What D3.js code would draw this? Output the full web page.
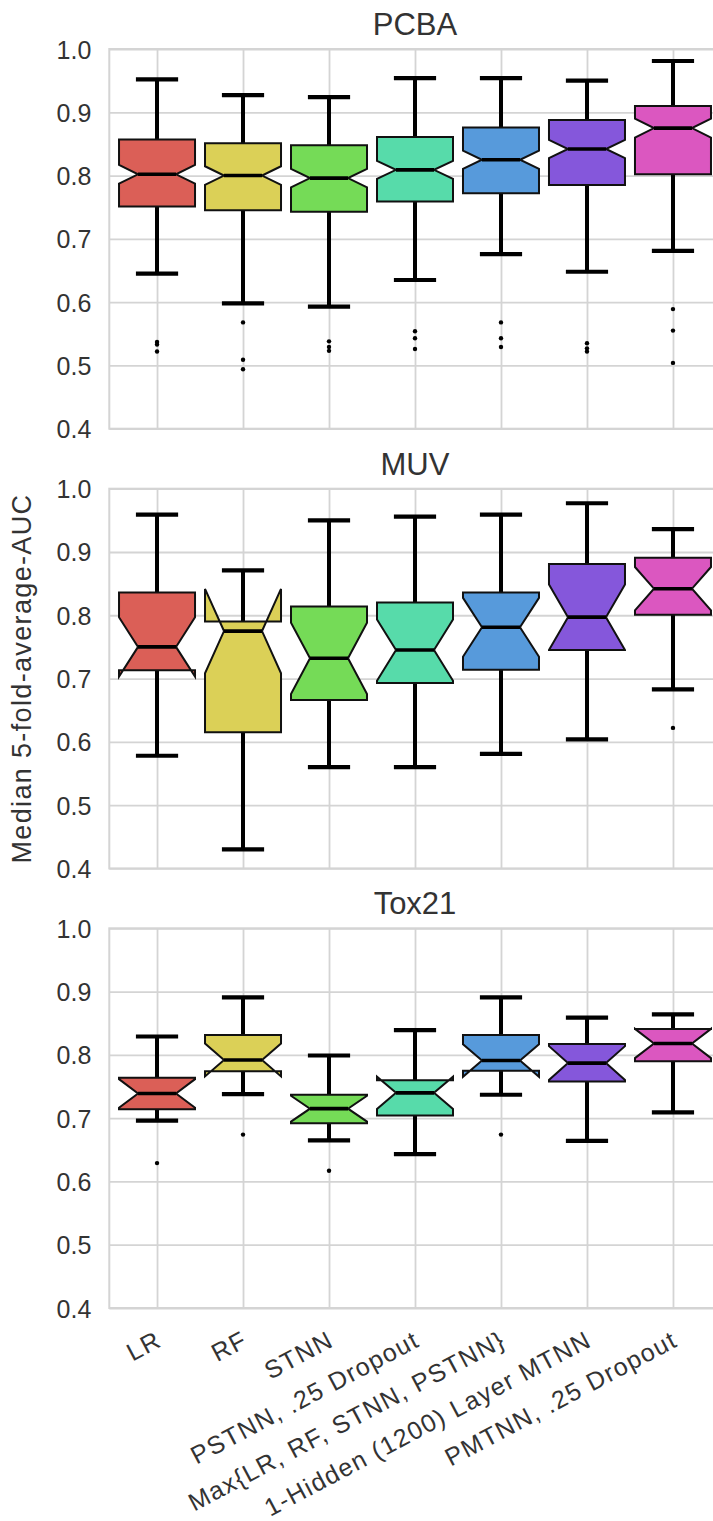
<!DOCTYPE html>
<html><head><meta charset="utf-8">
<script src="https://cdn.jsdelivr.net/npm/d3@7"></script>
<style>body{margin:0;background:#fff} svg{display:block}</style>
</head><body>
<svg id="chart" width="713" height="1521"></svg>
<script>
// ---------------- data ----------------
const categories = ["LR", "RF", "STNN", "PSTNN, .25 Dropout", "Max{LR, RF, STNN, PSTNN}", "1-Hidden (1200) Layer MTNN", "PMTNN, .25 Dropout"];
const datasets = ["PCBA", "MUV", "Tox21"];
const taskCounts = [128, 17, 12];
const colors = ["#db5f57", "#dbd057", "#75db57", "#57dbaa", "#579adb", "#8557db", "#db57c0"];
const yTicks = [0.4, 0.5, 0.6, 0.7, 0.8, 0.9, 1.0];

const pcbaHigh   = [0.952, 0.927, 0.924, 0.954, 0.954, 0.950, 0.981];
const pcbaQ3     = [0.857, 0.851, 0.848, 0.861, 0.876, 0.888, 0.910];
const pcbaMedian = [0.802, 0.800, 0.796, 0.809, 0.825, 0.842, 0.875];
const pcbaQ1     = [0.751, 0.745, 0.743, 0.759, 0.772, 0.785, 0.802];
const pcbaLow    = [0.645, 0.598, 0.593, 0.635, 0.676, 0.648, 0.681];
const pcbaOutliers = [[0.537, 0.533, 0.522], [0.568, 0.509, 0.494], [0.538, 0.529, 0.523], [0.554, 0.543, 0.526], [0.568, 0.543, 0.529], [0.535, 0.527, 0.522], [0.589, 0.555, 0.504]];

const muvHigh   = [0.959, 0.871, 0.950, 0.956, 0.959, 0.977, 0.936];
const muvQ3     = [0.836, 0.790, 0.814, 0.820, 0.836, 0.881, 0.891];
const muvMedian = [0.750, 0.775, 0.732, 0.745, 0.781, 0.797, 0.842];
const muvQ1     = [0.713, 0.615, 0.666, 0.693, 0.714, 0.745, 0.801];
const muvLow    = [0.578, 0.430, 0.560, 0.560, 0.581, 0.604, 0.683];
const muvOutliers = [[], [], [], [], [], [], [0.622]];

const toxHigh   = [0.829, 0.891, 0.799, 0.839, 0.891, 0.859, 0.864];
const toxQ3     = [0.764, 0.8315, 0.737, 0.760, 0.8315, 0.817, 0.841];
const toxMedian = [0.739, 0.792, 0.715, 0.740, 0.791, 0.787, 0.818];
const toxQ1     = [0.714, 0.774, 0.692, 0.704, 0.775, 0.758, 0.790];
const toxLow    = [0.696, 0.738, 0.665, 0.643, 0.737, 0.664, 0.709];
const toxOutliers = [[0.629], [0.674], [0.617], [], [0.674], [], []];

const panels = [
  {high: pcbaHigh, q3: pcbaQ3, med: pcbaMedian, q1: pcbaQ1, low: pcbaLow, out: pcbaOutliers},
  {high: muvHigh, q3: muvQ3, med: muvMedian, q1: muvQ1, low: muvLow, out: muvOutliers},
  {high: toxHigh, q3: toxQ3, med: toxMedian, q1: toxQ1, low: toxLow, out: toxOutliers}
];

// ---------------- layout ----------------
const font = "'Liberation Sans', Arial, Helvetica, sans-serif";
const textColor = "#333333";
const gridColor = "#d4d4d4";
const left = 109.3, right = 720.7;
const panelTops = [49, 488.7, 928.3];
const panelH = 379.7;
const boxW = 76;

const svg = d3.select("#chart");
const x = d3.scalePoint().domain(categories).range([left, right]).padding(0.555);

panels.forEach((p, pi) => {
  const top = panelTops[pi];
  const y = d3.scaleLinear().domain([0.4, 1.0]).range([top + panelH, top]);
  const g = svg.append("g");

  // horizontal grid + y tick labels
  const ya = g.append("g").attr("transform", `translate(${left},0)`)
    .call(d3.axisLeft(y).tickValues(yTicks).tickFormat(d3.format(".1f"))
      .tickSize(-(right - left)).tickPadding(18));
  ya.select(".domain").remove();
  ya.selectAll(".tick line").attr("stroke", gridColor).attr("stroke-width", 1.8);
  ya.selectAll(".tick text").attr("font-family", font).attr("font-size", 25)
    .attr("fill", textColor).attr("dy", "0.36em");

  // vertical grid (+ rotated category labels in the last panel)
  const xa = g.append("g").attr("transform", `translate(0,${top + panelH})`)
    .call(d3.axisBottom(x).tickSize(-panelH).tickPadding(0));
  xa.select(".domain").remove();
  xa.selectAll(".tick line").attr("stroke", gridColor).attr("stroke-width", 1.8);
  if (pi === panels.length - 1) {
    xa.selectAll(".tick text")
      .attr("font-family", font).attr("font-size", 25).attr("fill", textColor)
      .attr("letter-spacing", 1.4)
      .attr("text-anchor", "end")
      .attr("x", 0).attr("y", 0).attr("dy", "0.74em")
      .attr("transform", "translate(-3,21) rotate(-28)");
  } else {
    xa.selectAll(".tick text").remove();
  }

  // frame (spines)
  g.append("rect").attr("x", left).attr("y", top)
    .attr("width", right - left).attr("height", panelH)
    .attr("fill", "none").attr("stroke", gridColor).attr("stroke-width", 2);

  // title
  g.append("text").attr("x", (left + right) / 2).attr("y", top - 14)
    .attr("text-anchor", "middle").attr("font-family", font).attr("font-size", 31)
    .attr("fill", textColor).text(datasets[pi]);

  const n = taskCounts[pi];
  categories.forEach((c, i) => {
    const pos = x(c), hw = boxW / 2, qw = boxW / 4;
    const q1 = p.q1[i], q3 = p.q3[i], med = p.med[i];
    const nh = 1.57 * (q3 - q1) / Math.sqrt(n);
    const nlo = med - nh, nhi = med + nh;
    const bg = g.append("g");

    // whiskers
    bg.append("line").attr("x1", pos).attr("x2", pos).attr("y1", y(q3)).attr("y2", y(p.high[i]))
      .attr("stroke", "#000").attr("stroke-width", 4);
    bg.append("line").attr("x1", pos).attr("x2", pos).attr("y1", y(q1)).attr("y2", y(p.low[i]))
      .attr("stroke", "#000").attr("stroke-width", 4);
    // caps
    [p.high[i], p.low[i]].forEach(v => {
      bg.append("line").attr("x1", pos - qw).attr("x2", pos + qw).attr("y1", y(v)).attr("y2", y(v))
        .attr("stroke", "#000").attr("stroke-width", 4.2).attr("stroke-linecap", "square");
    });
    // notched box
    const pts = [
      [pos - hw, q1], [pos + hw, q1], [pos + hw, nlo], [pos + qw, med], [pos + hw, nhi],
      [pos + hw, q3], [pos - hw, q3], [pos - hw, nhi], [pos - qw, med], [pos - hw, nlo], [pos - hw, q1]
    ].map(d => [d[0], y(d[1])]);
    bg.append("path").attr("d", d3.line()(pts) + "Z")
      .attr("fill", colors[i]).attr("stroke", "#111").attr("stroke-width", 2)
      .attr("stroke-linejoin", "miter");
    // median
    bg.append("line").attr("x1", pos - qw).attr("x2", pos + qw).attr("y1", y(med)).attr("y2", y(med))
      .attr("stroke", "#000").attr("stroke-width", 3.6);
    // outliers
    bg.selectAll("circle").data(p.out[i]).join("circle")
      .attr("cx", pos).attr("cy", d => y(d)).attr("r", 2.2).attr("fill", "#000");
  });
});

// y-axis label
svg.append("text")
  .attr("transform", `translate(31,${(panelTops[1] + panelTops[1] + panelH) / 2}) rotate(-90)`)
  .attr("text-anchor", "middle").attr("font-family", font).attr("font-size", 27)
  .attr("letter-spacing", 1.35).attr("fill", textColor)
  .text("Median 5-fold-average-AUC");
</script>
</body></html>
